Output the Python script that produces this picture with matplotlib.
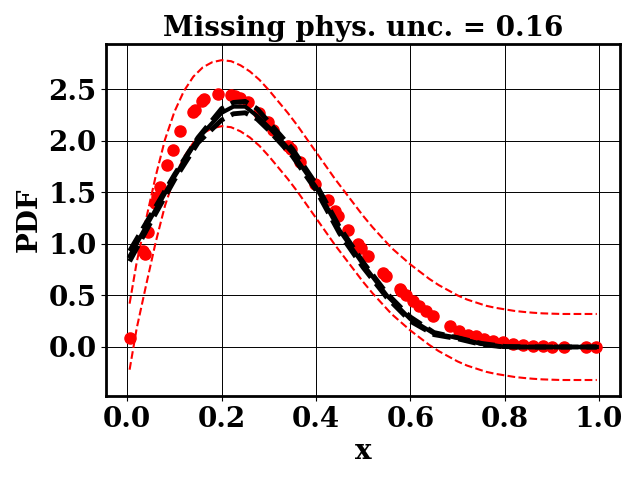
import numpy as np
import matplotlib
matplotlib.use("Agg")
import matplotlib.pyplot as plt

# true pdf (centre of the red band)
x_true = [0.005, 0.02, 0.04, 0.06, 0.08, 0.10, 0.12, 0.14, 0.16, 0.18, 0.20,
          0.22, 0.24, 0.26, 0.28, 0.30, 0.32, 0.34, 0.36, 0.38, 0.40, 0.42,
          0.44, 0.46, 0.48, 0.50, 0.52, 0.54, 0.56, 0.58, 0.60, 0.62, 0.64,
          0.66, 0.68, 0.70, 0.72, 0.74, 0.76, 0.78, 0.80, 0.82, 0.84, 0.86,
          0.88, 0.90, 0.92, 0.94, 0.96, 0.98, 0.995]
y_true = [0.10, 0.50, 0.92, 1.33, 1.69, 1.96, 2.16, 2.30, 2.39, 2.44, 2.46,
          2.45, 2.41, 2.35, 2.27, 2.17, 2.06, 1.95, 1.83, 1.70, 1.57, 1.44,
          1.31, 1.19, 1.07, 0.95, 0.84, 0.74, 0.64, 0.56, 0.48, 0.41, 0.34,
          0.28, 0.23, 0.18, 0.14, 0.11, 0.08, 0.06, 0.045, 0.03, 0.02, 0.012,
          0.006, 0.003, 0.0, 0.0, 0.0, 0.0, 0.0]
band = 0.32

# noisy observations (red dots)
x_obs = [0.005, 0.034, 0.038, 0.045, 0.059, 0.063, 0.070, 0.084, 0.096, 0.112,
         0.139, 0.143, 0.158, 0.163, 0.193, 0.220, 0.228, 0.239, 0.255, 0.280,
         0.299, 0.309, 0.341, 0.347, 0.366, 0.397, 0.426, 0.441, 0.447, 0.468,
         0.490, 0.496, 0.510, 0.543, 0.549, 0.577, 0.581, 0.591, 0.605, 0.619,
         0.634, 0.648, 0.683, 0.704, 0.722, 0.739, 0.757, 0.775, 0.796, 0.817,
         0.838, 0.859, 0.880, 0.901, 0.926, 0.972, 0.993]
y_obs = [0.09, 0.93, 0.90, 1.11, 1.40, 1.45, 1.55, 1.76, 1.91, 2.09,
         2.28, 2.30, 2.38, 2.40, 2.45, 2.44, 2.43, 2.41, 2.37, 2.27,
         2.18, 2.10, 1.95, 1.92, 1.79, 1.58, 1.42, 1.32, 1.27, 1.13,
         1.00, 0.96, 0.885, 0.72, 0.69, 0.56, 0.545, 0.50, 0.45, 0.40,
         0.35, 0.30, 0.20, 0.155, 0.12, 0.107, 0.075, 0.058, 0.049, 0.032,
         0.02, 0.01, 0.006, 0.0, 0.0, 0.0, 0.0]

# model prediction (black) and its spread
x_pred = [0.005, 0.05, 0.10, 0.15, 0.20, 0.225, 0.25, 0.275, 0.30, 0.35, 0.40,
          0.45, 0.50, 0.55, 0.60, 0.65, 0.70, 0.75, 0.80, 0.85, 0.90, 0.95, 0.995]
y_pred = [0.88, 1.25, 1.65, 2.02, 2.27, 2.33, 2.33, 2.24, 2.13, 1.88, 1.55,
          1.13, 0.80, 0.50, 0.27, 0.13, 0.09, 0.03, 0.0, 0.0, 0.0, 0.0, 0.0]
y_pred_hi = [0.93, 1.28, 1.67, 2.03, 2.31, 2.37, 2.38, 2.31, 2.18, 1.92, 1.58,
             1.16, 0.82, 0.52, 0.29, 0.14, 0.09, 0.035, 0.005, 0.0, 0.0, 0.0, 0.0]
y_pred_lo = [0.83, 1.21, 1.62, 1.98, 2.20, 2.26, 2.27, 2.21, 2.10, 1.85, 1.52,
             1.10, 0.77, 0.48, 0.25, 0.12, 0.08, 0.025, 0.0, 0.0, 0.0, 0.0, 0.0]

plt.rcParams['font.family'] = 'DejaVu Serif'
plt.rcParams['font.weight'] = 'bold'
plt.rcParams['font.size'] = 20

fig, ax = plt.subplots(figsize=(6.4, 4.8), dpi=100)
fig.subplots_adjust(left=0.166, right=0.969, top=0.908, bottom=0.175)

yt = np.array(y_true)
ax.plot(x_obs, y_obs, 'o', color='red', markersize=8)
ax.plot(x_true, yt + band, '--', color='red', lw=1.5)
ax.plot(x_true, yt - band, '--', color='red', lw=1.5)
ax.plot(x_pred, y_pred, '-', color='black', lw=3)
ax.plot(x_pred, y_pred_hi, '--', color='black', lw=3.5)
ax.plot(x_pred, y_pred_lo, '--', color='black', lw=3.5)

ax.grid(True, color='black', lw=0.7)
for s in ax.spines.values():
    s.set_linewidth(2)
ax.set_xticks([0.0, 0.2, 0.4, 0.6, 0.8, 1.0])
ax.set_yticks([0.0, 0.5, 1.0, 1.5, 2.0, 2.5])
ax.set_xlabel('x', fontweight='bold')
ax.set_ylabel('PDF', fontweight='bold')
ax.set_title('Missing phys. unc. = 0.16', fontweight='bold', fontsize=20)

plt.savefig('out.png')
